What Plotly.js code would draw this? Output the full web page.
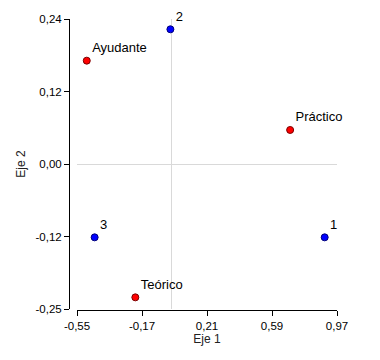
<!DOCTYPE html>
<html>
<head>
<meta charset="utf-8">
<script src="https://cdn.plot.ly/plotly-3.0.1.min.js"></script>
<style>html,body{margin:0;padding:0;background:#fff;}#chart{width:380px;height:360px;}</style>
</head>
<body>
<div id="chart"></div>
<script>
// Row points (red)
const rowLabels = ["Ayudante", "Práctico", "Teórico"];
const rowX = [-0.493, 0.696, -0.209];
const rowY = [0.1746, 0.0575, -0.2253];
// Column points (blue)
const colLabels = ["2", "1", "3"];
const colX = [-0.004, 0.898, -0.447];
const colY = [0.2276, -0.1239, -0.1239];
// Axis ticks
const xTickVals = [-0.55, -0.17, 0.21, 0.59, 0.97];
const xTickText = ["-0,55", "-0,17", "0,21", "0,59", "0,97"];
const yTickVals = [-0.245, -0.1225, 0, 0.1225, 0.245];
const yTickText = ["-0,25", "-0,12", "0,00", "0,12", "0,24"];

const fam = "Liberation Sans, Arial, sans-serif";
const tickFont = {family: fam, size: 11.5, color: "#000"};
const labelFont = {family: fam, size: 13, color: "#000"};

const traces = [
  {
    type: "scatter", mode: "markers+text",
    x: rowX, y: rowY, text: rowLabels, textposition: "top right",
    textfont: labelFont,
    marker: {color: "#ff0000", size: 7, line: {color: "#7a0000", width: 1}},
    cliponaxis: false, hoverinfo: "skip"
  },
  {
    type: "scatter", mode: "markers+text",
    x: colX, y: colY, text: colLabels, textposition: "top right",
    textfont: labelFont,
    marker: {color: "#0000ff", size: 7, line: {color: "#00007a", width: 1}},
    cliponaxis: false, hoverinfo: "skip"
  }
];

const layout = {
  width: 380, height: 360,
  margin: {l: 69, r: 43, t: 19, b: 50, pad: 0},
  paper_bgcolor: "#fff", plot_bgcolor: "#fff",
  showlegend: false,
  font: tickFont,
  hovermode: false,
  xaxis: {
    range: [-0.55, 0.97], domain: [0.0299, 1], anchor: "free", position: 0,
    tickvals: xTickVals, ticktext: xTickText,
    showgrid: false, zeroline: true, zerolinecolor: "#d9d9d9", zerolinewidth: 1,
    showline: true, linecolor: "#000", linewidth: 1,
    ticks: "outside", ticklen: 5, tickcolor: "#000", tickfont: tickFont,
    title: {text: "Eje 1", font: {family: fam, size: 12, color: "#222"}, standoff: 3}
  },
  yaxis: {
    range: [-0.245, 0.245], domain: [0.0034, 1], anchor: "free", position: 0,
    tickvals: yTickVals, ticktext: yTickText,
    showgrid: false, zeroline: true, zerolinecolor: "#d9d9d9", zerolinewidth: 1,
    showline: true, linecolor: "#000", linewidth: 1,
    ticks: "outside", ticklen: 5, tickcolor: "#000", tickfont: tickFont,
    title: {text: "Eje 2", font: {family: fam, size: 12, color: "#222"}, standoff: 6}
  }
};

Plotly.newPlot("chart", traces, layout, {displayModeBar: false, staticPlot: true});
</script>
</body>
</html>
